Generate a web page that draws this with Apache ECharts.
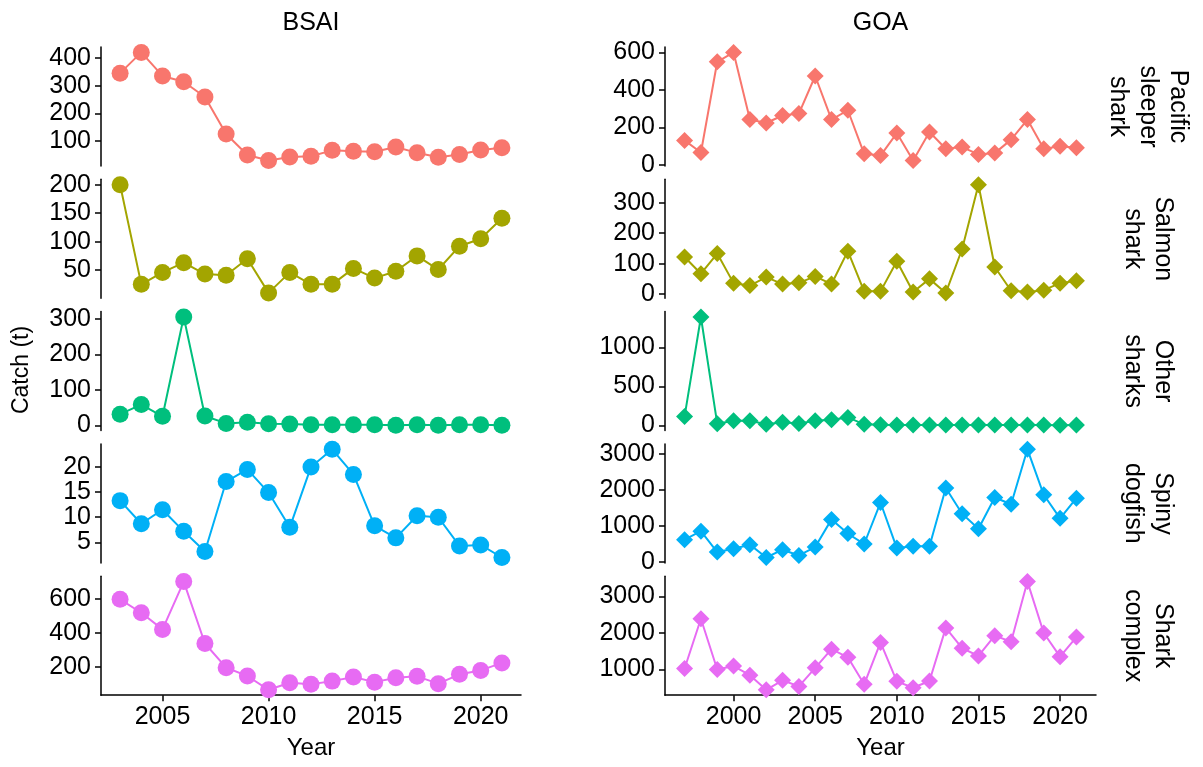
<!DOCTYPE html>
<html>
<head>
<meta charset="utf-8">
<title>Shark catch</title>
<script src="https://cdn.jsdelivr.net/npm/echarts@6/dist/echarts.min.js"></script>
<style>
  html, body { margin: 0; padding: 0; background: #fff; }
  #chart { width: 1203px; height: 767px; }
</style>
</head>
<body>
<div id="chart"></div>
<script>
// years
const bsaiYears = [2003, 2004, 2005, 2006, 2007, 2008, 2009, 2010, 2011, 2012, 2013, 2014, 2015, 2016, 2017, 2018, 2019, 2020, 2021]
const goaYears = [1997, 1998, 1999, 2000, 2001, 2002, 2003, 2004, 2005, 2006, 2007, 2008, 2009, 2010, 2011, 2012, 2013, 2014, 2015, 2016, 2017, 2018, 2019, 2020, 2021]

// catch (t), BSAI
const bsaiSleeper = [345, 420, 335, 314, 259, 125, 49, 29, 42, 45, 66, 63, 61, 78, 57, 41, 51, 67, 75]
const bsaiSalmon = [200, 25, 46, 63, 43, 41, 70, 10, 46, 25, 25, 53, 36, 48, 75, 51, 92, 105, 141]
const bsaiOther = [32, 59, 26, 305, 27, 6, 9, 5, 4, 2, 2, 2, 2, 1, 2, 1, 2, 2, 1]
const bsaiDogfish = [13.3, 8.7, 11.5, 7.2, 3.2, 17.1, 19.5, 14.9, 8.0, 20.0, 23.5, 18.5, 8.3, 5.9, 10.3, 10.0, 4.3, 4.5, 2.0]
const bsaiComplex = [598, 519, 421, 702, 338, 196, 147, 66, 107, 98, 117, 141, 111, 137, 145, 102, 157, 180, 224]

// catch (t), GOA
const goaSleeper = [131, 66, 551, 601, 242, 224, 264, 274, 475, 242, 292, 59, 50, 170, 23, 176, 86, 95, 56, 63, 135, 242, 86, 99, 91]
const goaSalmon = [122, 67, 133, 36, 28, 56, 33, 37, 58, 33, 141, 9, 9, 108, 7, 50, 4, 148, 359, 89, 11, 7, 13, 36, 44]
const goaOther = [116, 1388, 22, 60, 60, 17, 43, 26, 60, 73, 103, 15, 10, 8, 6, 8, 6, 5, 8, 5, 7, 8, 5, 4, 8]
const goaDogfish = [624, 857, 280, 373, 485, 130, 345, 186, 419, 1184, 792, 503, 1650, 391, 438, 438, 2050, 1342, 923, 1789, 1603, 3122, 1864, 1212, 1771]
const goaComplex = [1028, 2389, 1000, 1093, 843, 444, 704, 537, 1046, 1556, 1333, 593, 1741, 676, 500, 685, 2139, 1583, 1370, 1926, 1759, 3407, 2000, 1352, 1889]

// tick labels
const bsaiYearTicks = [2005, 2010, 2015, 2020]
const goaYearTicks = [2000, 2005, 2010, 2015, 2020]
const bsaiTicks = [[100, 200, 300, 400], [50, 100, 150, 200], [0, 100, 200, 300], [5, 10, 15, 20], [200, 400, 600]]
const goaTicks = [[0, 200, 400, 600], [0, 100, 200, 300], [0, 500, 1000], [0, 1000, 2000, 3000], [1000, 2000, 3000]]

const species = ['Pacific\nsleeper\nshark', 'Salmon\nshark', 'Other\nsharks', 'Spiny\ndogfish', 'Shark\ncomplex']
const colors = ['#F8766D', '#A3A500', '#00BF7D', '#00B0F6', '#E76BF3']

const bsaiData = [bsaiSleeper, bsaiSalmon, bsaiOther, bsaiDogfish, bsaiComplex]
const goaData = [goaSleeper, goaSalmon, goaOther, goaDogfish, goaComplex]

const FONT = "'Liberation Sans', Arial, sans-serif"
const rowTop = 47
const rowStep = 132.3
const rowHeight = 119

const cols = [
  { name: 'BSAI', left: 101, width: 420, years: bsaiYears, data: bsaiData, ticks: bsaiTicks, xTicks: bsaiYearTicks, xMin: 2002.1, xMax: 2021.9, symbol: 'circle', size: 17 },
  { name: 'GOA', left: 665, width: 431, years: goaYears, data: goaData, ticks: goaTicks, xTicks: goaYearTicks, xMin: 1995.8, xMax: 2022.2, symbol: 'diamond', size: 17 }
]

// ggplot-like 5% expansion
function expMin(v) { return v.min - 0.05 * (v.max - v.min) }
function expMax(v) { return v.max + 0.05 * (v.max - v.min) }

const grid = []
const xAxis = []
const yAxis = []
const series = []
const graphic = []

cols.forEach(function (col) {
  graphic.push({
    type: 'text', x: col.left + col.width / 2, y: 23,
    style: { text: col.name, font: '25px ' + FONT, fill: '#000', align: 'center', verticalAlign: 'middle' }
  })
  for (let r = 0; r < 5; r++) {
    const idx = grid.length
    const bottomRow = r === 4
    grid.push({ left: col.left, width: col.width, top: rowTop + r * rowStep, height: rowHeight })
    xAxis.push({
      gridIndex: idx, type: 'value', min: col.xMin, max: col.xMax,
      name: bottomRow ? 'Year' : '', nameLocation: 'middle', nameGap: 41,
      nameTextStyle: { fontSize: 24, color: '#000', fontFamily: FONT },
      axisLine: { show: bottomRow, lineStyle: { color: '#000', width: 1.5 } },
      axisTick: { show: bottomRow, length: 6, customValues: col.xTicks, lineStyle: { color: '#000', width: 1.5 } },
      axisLabel: { show: bottomRow, customValues: col.xTicks, fontSize: 25, color: '#000', fontFamily: FONT, margin: 9, formatter: function (v) { return String(v) } },
      splitLine: { show: false }
    })
    yAxis.push({
      gridIndex: idx, type: 'value', min: expMin, max: expMax,
      axisLine: { show: true, onZero: false, lineStyle: { color: '#000', width: 1.5 } },
      axisTick: { show: true, length: 6, customValues: col.ticks[r], lineStyle: { color: '#000', width: 1.5 } },
      axisLabel: { customValues: col.ticks[r], fontSize: 25, color: '#000', fontFamily: FONT, margin: 10, formatter: function (v) { return String(v) } },
      splitLine: { show: false }
    })
    const vals = col.data[r]
    series.push({
      type: 'line', xAxisIndex: idx, yAxisIndex: idx,
      data: col.years.map(function (y, k) { return [y, vals[k]] }),
      symbol: col.symbol, symbolSize: col.size, showSymbol: true,
      lineStyle: { color: colors[r], width: 2 },
      itemStyle: { color: colors[r] },
      clip: true, animation: false
    })
  }
})

// facet strip labels on the right
species.forEach(function (s, r) {
  graphic.push({
    type: 'text', x: 1148, y: rowTop + r * rowStep + rowHeight / 2, rotation: -Math.PI / 2,
    style: { text: s, font: '25px ' + FONT, fill: '#000', align: 'center', verticalAlign: 'middle', lineHeight: 30 }
  })
})

graphic.push({
  type: 'text', x: 22, y: 370, rotation: Math.PI / 2,
  style: { text: 'Catch (t)', font: '23px ' + FONT, fill: '#000', align: 'center', verticalAlign: 'middle' }
})

const chart = echarts.init(document.getElementById('chart'))
chart.setOption({
  animation: false,
  backgroundColor: '#fff',
  grid: grid,
  xAxis: xAxis,
  yAxis: yAxis,
  series: series,
  graphic: graphic
})
</script>
</body>
</html>
